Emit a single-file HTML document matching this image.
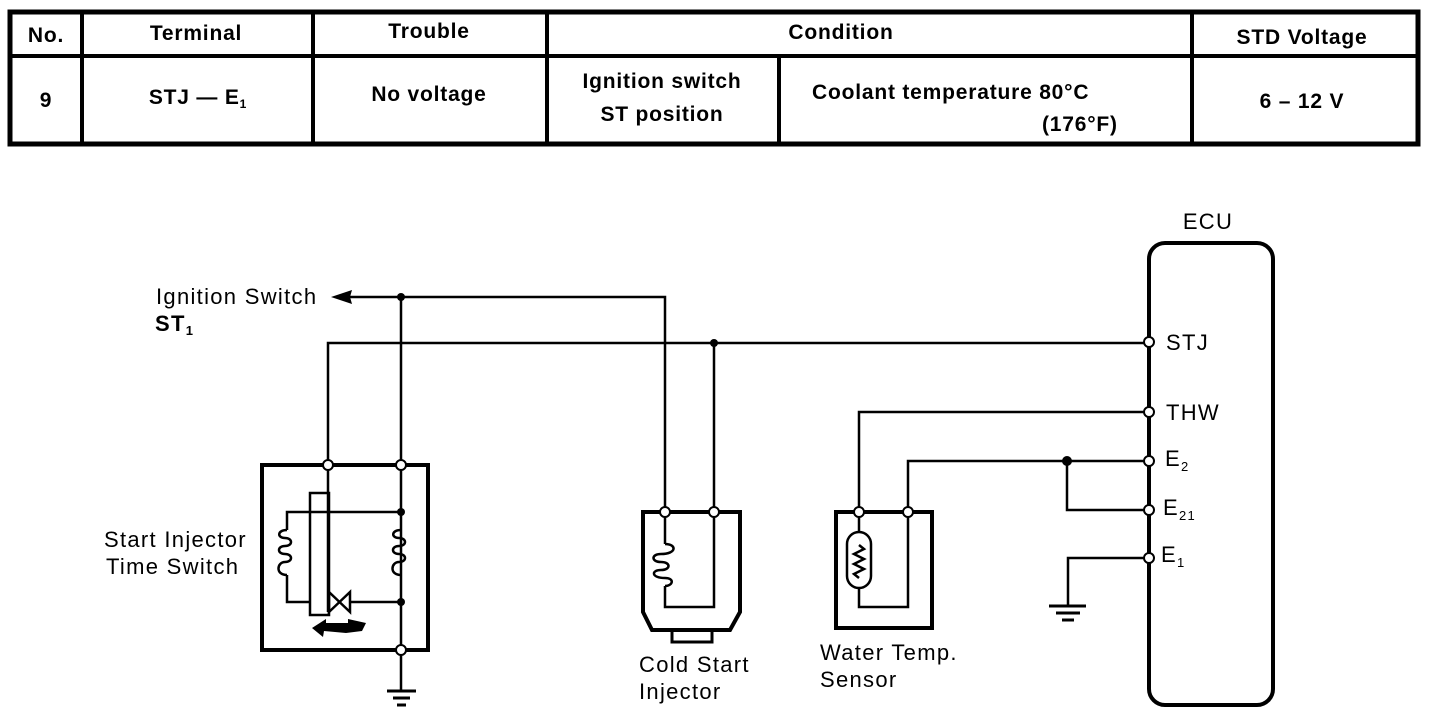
<!DOCTYPE html>
<html><head><style>
html,body{margin:0;padding:0;background:#fff;}
svg{display:block;}
text{font-family:"Liberation Sans",sans-serif;fill:#000;}
.b{font-weight:bold;font-size:21px;letter-spacing:0.8px;}
.l{font-size:22px;letter-spacing:1.3px;}
</style></head><body>
<svg width="1440" height="724" viewBox="0 0 1440 724" xmlns="http://www.w3.org/2000/svg">
<g stroke="#000" fill="none">
<rect x="10" y="12" width="1408" height="132" stroke-width="5"/>
<line x1="10" y1="56" x2="1418" y2="56" stroke-width="4"/>
<line x1="82" y1="12" x2="82" y2="144" stroke-width="4"/>
<line x1="313" y1="12" x2="313" y2="144" stroke-width="4"/>
<line x1="547" y1="12" x2="547" y2="144" stroke-width="4"/>
<line x1="1192" y1="12" x2="1192" y2="144" stroke-width="4"/>
<line x1="779" y1="56" x2="779" y2="144" stroke-width="4"/>
</g>
<text class="b" x="46" y="42" text-anchor="middle">No.</text>
<text class="b" x="196" y="40" text-anchor="middle">Terminal</text>
<text class="b" x="429" y="38" text-anchor="middle">Trouble</text>
<text class="b" x="841" y="39" text-anchor="middle">Condition</text>
<text class="b" x="1302" y="44" text-anchor="middle">STD Voltage</text>
<text class="b" x="46" y="107" text-anchor="middle">9</text>
<text class="b" x="198" y="104" text-anchor="middle">STJ  —  E<tspan font-size="12" dy="4">1</tspan></text>
<text class="b" x="429" y="101" text-anchor="middle">No voltage</text>
<text class="b" x="662" y="88" text-anchor="middle">Ignition switch</text>
<text class="b" x="662" y="121" text-anchor="middle">ST position</text>
<text class="b" x="812" y="99">Coolant temperature 80°C</text>
<text class="b" x="1042" y="131">(176°F)</text>
<text class="b" x="1302" y="108" text-anchor="middle">6 – 12 V</text>

<text class="l" x="1208" y="229" text-anchor="middle">ECU</text>
<rect x="1149" y="243" width="124" height="462" rx="16" stroke="#000" stroke-width="4" fill="none"/>

<g stroke="#000" stroke-width="2.5" fill="none">
<polyline points="350,297 665,297 665,512"/>
<line x1="401" y1="297" x2="401" y2="465"/>
<polyline points="328,465 328,343 1149,343"/>
<line x1="714" y1="343" x2="714" y2="512"/>
<polyline points="1149,412 859,412 859,512"/>
<polyline points="1149,461 908,461 908,512"/>
<polyline points="1067,461 1067,510 1149,510"/>
<polyline points="1149,558 1068,558 1068,605"/>
</g>
<polygon points="331,297 352,290 350,297 352,304" fill="#000"/>
<text class="l" x="156" y="304">Ignition Switch</text>
<text class="l" x="155" y="331" font-weight="bold">ST<tspan font-size="13" dy="4">1</tspan></text>

<g stroke="#000" fill="none">
<rect x="262" y="465" width="166" height="185" stroke-width="4"/>
<g stroke-width="2.5">
<line x1="328" y1="465" x2="328" y2="612"/>
<rect x="310" y="493" width="19" height="122"/>
<polyline points="287,530 287,512 401,512"/>
<polyline points="287,575 287,602 310,602"/>
<line x1="401" y1="465" x2="401" y2="690"/>
<line x1="350" y1="602" x2="401" y2="602"/>
<polygon points="329,592 350,612 350,592 329,612"/>
<path d="M287,530 c-10,0 -10,8 -2,8 c8,0 8,8 0,8 c-8,0 -8,8 0,8 c8,0 8,8 0,8 c-8,0 -10,13 2,13"/>
<path d="M401,530 c-10,0 -10,8 -2,8 c8,0 8,8 0,8 c-8,0 -8,8 0,8 c8,0 8,8 0,8 c-8,0 -10,13 2,13"/>
</g>
</g>
<circle cx="401" cy="512" r="4" fill="#000"/>
<circle cx="401" cy="602" r="4" fill="#000"/>
<path d="M312,628 l14,-9 l0,4 l22,0 l0,-4 l18,4 l-4,8 l-16,2 l-22,-2 l-1,6 z" fill="#000"/>
<g stroke="#000" stroke-width="3">
<line x1="387" y1="691" x2="416" y2="691"/>
<line x1="393" y1="698" x2="410" y2="698"/>
<line x1="397" y1="705" x2="406" y2="705"/>
<line x1="1049" y1="606" x2="1086" y2="606"/>
<line x1="1056" y1="613" x2="1080" y2="613"/>
<line x1="1062" y1="620" x2="1074" y2="620"/>
</g>
<text class="l" x="104" y="547">Start Injector</text>
<text class="l" x="106" y="574">Time Switch</text>

<g stroke="#000" fill="none">
<path d="M643,512 L740,512 L740,612 L730,630 L652,630 L643,612 Z" stroke-width="4"/>
<rect x="672" y="630" width="40" height="12" stroke-width="3"/>
<g stroke-width="2.5">
<polyline points="665,512 665,544"/>
<path d="M665,544 c12,0 12,10 -4,10 c-10,0 -10,8 0,8 c10,0 10,8 0,8 c-10,0 -10,8 4,8 c10,0 8,8 0,8"/>
<polyline points="665,586 665,607 714,607 714,512"/>
</g>
</g>
<text class="l" x="639" y="672">Cold Start</text>
<text class="l" x="639" y="699">Injector</text>

<g stroke="#000" fill="none">
<rect x="836" y="512" width="96" height="116" stroke-width="4"/>
<g stroke-width="2.5">
<line x1="859" y1="512" x2="859" y2="532"/>
<rect x="847" y="532" width="24" height="56" rx="12"/>
<polyline points="859,545 864,549 854,554 864,559 854,564 864,569 854,574 859,578"/>
<polyline points="859,588 859,607 908,607 908,512"/>
</g>
</g>
<text class="l" x="820" y="660">Water Temp.</text>
<text class="l" x="820" y="687">Sensor</text>

<g fill="#fff" stroke="#000" stroke-width="2">
<circle cx="328" cy="465" r="5"/><circle cx="401" cy="465" r="5"/><circle cx="401" cy="650" r="5"/>
<circle cx="665" cy="512" r="5"/><circle cx="714" cy="512" r="5"/>
<circle cx="859" cy="512" r="5"/><circle cx="908" cy="512" r="5"/>
<circle cx="1149" cy="342" r="5"/><circle cx="1149" cy="412" r="5"/><circle cx="1149" cy="461" r="5"/>
<circle cx="1149" cy="510" r="5"/><circle cx="1149" cy="558" r="5"/>
</g>
<circle cx="401" cy="297" r="4" fill="#000"/>
<circle cx="714" cy="343" r="4" fill="#000"/>
<circle cx="1067" cy="461" r="5" fill="#000"/>

<text class="l" x="1166" y="350">STJ</text>
<text class="l" x="1166" y="420">THW</text>
<text class="l" x="1165" y="466">E<tspan font-size="13" dy="5">2</tspan></text>
<text class="l" x="1163" y="515">E<tspan font-size="13" dy="5">21</tspan></text>
<text class="l" x="1161" y="562">E<tspan font-size="13" dy="5">1</tspan></text>
</svg>
</body></html>
